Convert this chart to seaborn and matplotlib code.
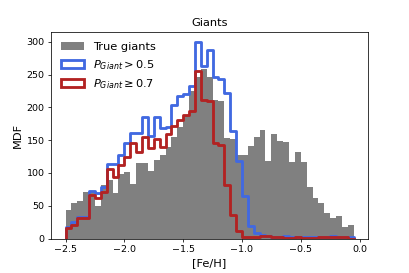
import numpy as np
import pandas as pd
import matplotlib
matplotlib.use("Agg")
import matplotlib.pyplot as plt
from matplotlib.patches import Patch
import seaborn as sns

# bin edges in [Fe/H], 0.05 dex wide
edges = np.linspace(-2.5, -0.05, 50)
centers = edges[:-1] + 0.025

# counts per bin
true_giants = [44, 55, 57, 71, 73, 50, 82, 89, 70, 99,
               101, 83, 115, 115, 103, 120, 128, 140, 155, 170,
               188, 225, 246, 258, 246, 212, 210, 153, 152, 128,
               128, 141, 155, 166, 118, 159, 149, 147, 116, 132,
               116, 78, 62, 54, 39, 31, 34, 17, 21]
p_giant_05 = [18, 25, 33, 33, 73, 70, 78, 114, 114, 127,
              145, 161, 161, 185, 157, 185, 168, 170, 204, 217,
              220, 233, 300, 263, 288, 246, 243, 222, 164, 118,
              65, 19, 8, 5, 4, 3, 2, 4, 3, 2,
              3, 3, 2, 2, 3, 4, 3, 3, 2]
p_giant_07 = [16, 21, 31, 31, 66, 62, 71, 106, 94, 112,
              125, 145, 132, 155, 138, 152, 139, 160, 171, 181,
              189, 195, 255, 211, 210, 145, 143, 82, 36, 12,
              3, 2, 2, 4, 4, 3, 2, 1, 1, 2,
              1, 1, 1, 2, 2, 3, 3, 2, 0]

labels = ["True giants", r"$P_{Giant} > 0.5$", r"$P_{Giant} \geq 0.7$"]
colors = ["gray", "royalblue", "firebrick"]

df = pd.DataFrame({"feh": centers, "giants": true_giants,
                   "p05": p_giant_05, "p07": p_giant_07})

fig = plt.figure(figsize=(409 / 68, 273 / 68), dpi=68)
ax = fig.add_axes([0.125, 0.126, 0.775, 0.757])

sns.histplot(data=df, x="feh", weights="giants", bins=list(edges), element="step",
             fill=True, color=colors[0], alpha=1, linewidth=0, ax=ax)
for col, c in [("p05", colors[1]), ("p07", colors[2])]:
    sns.histplot(data=df, x="feh", weights=col, bins=list(edges), element="step",
                 fill=False, color=c, linewidth=3, ax=ax)
    # close the outline down to zero at both ends, like histtype="step"
    line = ax.lines[-1]
    lx, ly = line.get_data()
    line.set_data(np.r_[lx[0], lx, lx[-1]], np.r_[0, ly, 0])

ax.set_xlim(-2.6225, 0.0725)
ax.set_ylim(0, 315)
ax.set_xticks([-2.5, -2.0, -1.5, -1.0, -0.5, 0.0])
ax.set_yticks([0, 50, 100, 150, 200, 250, 300])
ax.set_xlabel("[Fe/H]", fontsize=12)
ax.set_ylabel("MDF", fontsize=12)
ax.set_title("Giants", fontsize=12)

handles = [Patch(facecolor=colors[0], edgecolor="none"),
           Patch(facecolor="none", edgecolor=colors[1], linewidth=3),
           Patch(facecolor="none", edgecolor=colors[2], linewidth=3)]
ax.legend(handles, labels, loc="upper left", frameon=False, fontsize=12)

fig.savefig("out.png", dpi=68)
